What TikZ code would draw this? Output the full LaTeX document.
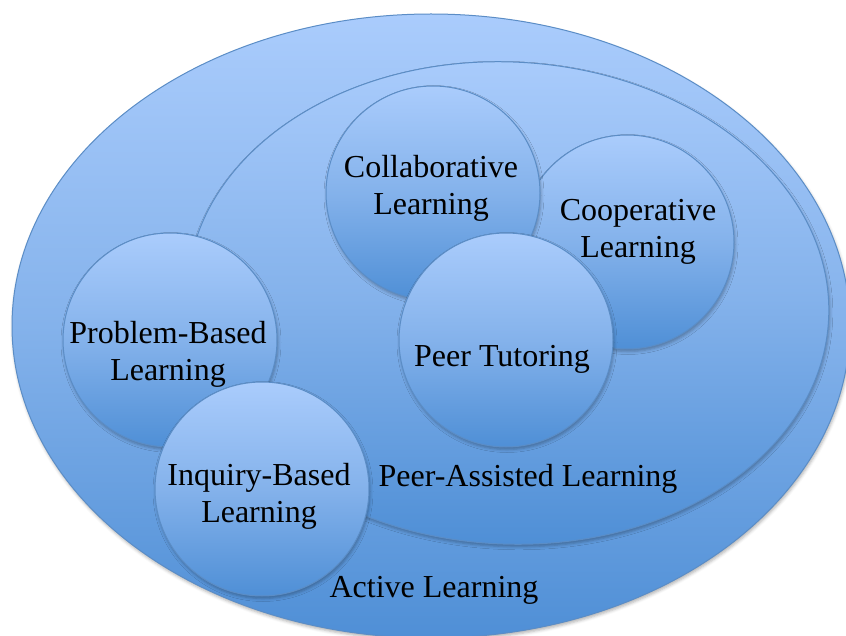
\documentclass[tikz,border=0pt]{standalone}
\usepackage{fontspec}
\setmainfont{Liberation Serif}
\usetikzlibrary{shapes.geometric,shadows.blur}

\definecolor{shadeTop}{HTML}{AACCFC}
\definecolor{shadeMid}{HTML}{84B2EB}
\definecolor{shadeBot}{HTML}{4F8FD6}
\definecolor{rim}{HTML}{5B8DC6}

% two centred lines; the box baseline is the baseline of the first line
\newcommand{\twolines}[2]{\begin{tabular}[t]{@{}c@{}}#1\\#2\end{tabular}}

\begin{document}
\begin{tikzpicture}[x=1pt,y=-1pt,
  bubble/.style={draw=rim, line width=1pt,
    top color=shadeTop, bottom color=shadeBot, middle color=shadeMid,
    blur shadow={shadow xshift=1pt, shadow yshift=-2.5pt,
                 shadow blur radius=3pt, shadow opacity=30}},
  circ/.style={bubble, circle, inner sep=0pt, minimum size=214pt},
  oval/.style={bubble, ellipse, inner sep=0pt},
  txt/.style={font=\fontsize{32}{37}\selectfont, inner sep=0pt, anchor=base}]

\useasboundingbox (0,0) rectangle (846,636);

% nested sets
\node[oval, minimum width=838pt, minimum height=624pt] (active) at (431,326) {};
\node[oval, minimum width=642pt, minimum height=482pt, rotate=-3] (pal) at (508,303) {};

% peer-assisted methods
\node[circ] (coop)   at (627,242) {};
\node[circ] (collab) at (433,193) {};
\node[circ] (tutor)  at (506,340) {};

% other active-learning methods
\node[circ] (pbl) at (170,340) {};
\node[circ] (ibl) at (262,489) {};

% labels
\node[txt] (collabT) at (431,178) {\twolines{Collaborative}{Learning}};
\node[txt] (coopT)   at (638,221) {\twolines{Cooperative}{Learning}};
\node[txt] (tutorT)  at (502,366) {Peer Tutoring};
\node[txt] (pblT)    at (168,343) {\twolines{Problem-Based}{Learning}};
\node[txt] (iblT)    at (259,485) {\twolines{Inquiry-Based}{Learning}};
\node[txt] (palT)    at (528,486) {Peer-Assisted Learning};
\node[txt] (activeT) at (434,597) {Active Learning};
\end{tikzpicture}
\end{document}
